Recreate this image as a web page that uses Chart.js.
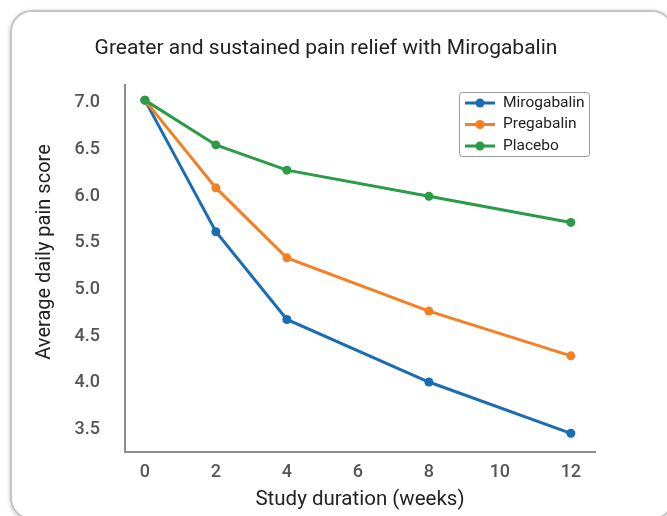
<!DOCTYPE html>
<html>
<head>
<meta charset="utf-8">
<script src="https://cdn.jsdelivr.net/npm/chart.js@4.4.1/dist/chart.umd.min.js"></script>
<style>
  html, body { margin: 0; padding: 0; background: #fff; }
  body { width: 667px; height: 516px; overflow: hidden; position: relative; }
  #card {
    position: absolute; left: 10px; top: 10px; width: 664px; height: 510px;
    border: 2px solid #c4c4c4; border-radius: 22px;
    box-shadow: 0 1px 4px rgba(0,0,0,0.25);
    box-sizing: border-box;
  }
  #wrap { position: absolute; left: 0; top: 0; width: 667px; height: 516px; }
</style>
</head>
<body>
<div id="card"></div>
<div id="wrap"><canvas id="chart" width="667" height="516"></canvas></div>
<script>
(function() {
    const weeks = [0, 2, 4, 8, 12];
    const mirogabalin = [7.03, 5.62, 4.68, 4.01, 3.46];
    const pregabalin = [7.03, 6.09, 5.34, 4.77, 4.29];
    const placebo = [7.03, 6.55, 6.28, 6.00, 5.72];
    const xTicks = [0, 2, 4, 6, 8, 10, 12];
    const yTicks = [3.5, 4.0, 4.5, 5.0, 5.5, 6.0, 6.5, 7.0];
    const yTitle = 'Average daily pain score';

    const FONT = "Roboto, sans-serif";

    function series(label, values, color, order) {
        return {
            label: label,
            data: weeks.map((w, i) => ({x: w, y: values[i]})),
            borderColor: color,
            backgroundColor: color,
            pointBackgroundColor: color,
            pointBorderWidth: 0,
            pointRadius: 4.5,
            borderWidth: 3,
            order: order,
        };
    }

    // legend drawn in a box inside the plot, top right, plus the y title
    const boxLegend = {
        id: 'boxLegend',
        afterDraw(chart) {
            const ctx = chart.ctx;
            const x0 = 459, y0 = 92, w = 130, h = 64;
            ctx.save();
            ctx.strokeStyle = '#9a9a9a';
            ctx.lineWidth = 1;
            ctx.beginPath();
            ctx.roundRect(x0 + 0.5, y0 + 0.5, w, h, 3);
            ctx.stroke();
            ctx.font = "15.5px " + FONT;
            ctx.textBaseline = 'middle';
            chart.data.datasets.forEach((ds, i) => {
                const y = y0 + 11 + i * 21.5;
                ctx.strokeStyle = ds.borderColor;
                ctx.lineWidth = 3;
                ctx.beginPath();
                ctx.moveTo(x0 + 6, y);
                ctx.lineTo(x0 + 36, y);
                ctx.stroke();
                ctx.fillStyle = ds.borderColor;
                ctx.beginPath();
                ctx.arc(x0 + 21, y, 4.5, 0, Math.PI * 2);
                ctx.fill();
                ctx.fillStyle = '#222';
                ctx.fillText(ds.label, x0 + 44, y);
            });

            // y axis title sits a bit above the middle of the axis in the original
            ctx.translate(45, 252);
            ctx.rotate(-Math.PI / 2);
            ctx.font = "20px " + FONT;
            ctx.textAlign = 'center';
            ctx.fillStyle = '#222';
            ctx.fillText(yTitle, 0, 0);
            ctx.restore();
        }
    };

    const config = {
        type: 'line',
        data: {
            datasets: [
                series('Mirogabalin', mirogabalin, '#1a6db3', 2),
                series('Pregabalin', pregabalin, '#f47f24', 1),
                series('Placebo', placebo, '#2a9b47', 0),
            ],
        },
        options: {
            responsive: false,
            animation: false,
            layout: {
                padding: {left: 57, right: 72, top: 34, bottom: 4},
            },
            scales: {
                x: {
                    type: 'linear',
                    min: -0.56,
                    max: 12.68,
                    afterBuildTicks: (axis) => {
                        axis.ticks = xTicks.map(v => ({value: v}));
                    },
                    afterFit: (axis) => {
                        axis.height = 60;
                    },
                    grid: {display: false, drawTicks: false},
                    border: {display: true, color: '#8c8c8c', width: 2},
                    ticks: {
                        padding: 10,
                        color: '#555',
                        font: {family: FONT, size: 18, weight: '500'},
                    },
                    title: {
                        display: true,
                        text: 'Study duration (weeks)',
                        color: '#222',
                        font: {family: FONT, size: 20.5},
                        padding: {top: 4, bottom: 0},
                    },
                },
                y: {
                    min: 3.26,
                    max: 7.19,
                    afterBuildTicks: (axis) => {
                        axis.ticks = yTicks.map(v => ({value: v}));
                    },
                    afterFit: (axis) => {
                        axis.width = 68;
                    },
                    grid: {display: false, drawTicks: false},
                    border: {display: true, color: '#8c8c8c', width: 2},
                    ticks: {
                        padding: 25,
                        color: '#555',
                        font: {family: FONT, size: 18, weight: '500'},
                        callback: (v) => v.toFixed(1),
                    },
                    title: {display: false},
                },
            },
            plugins: {
                legend: {display: false},
                tooltip: {enabled: false},
                title: {
                    display: true,
                    text: 'Greater and sustained pain relief with Mirogabalin',
                    color: '#222',
                    font: {family: FONT, size: 21, weight: 'normal'},
                    padding: {top: 2, bottom: 24},
                },
            },
        },
        plugins: [boxLegend],
    };

    new Chart(document.getElementById('chart'), config);
})();
</script>
</body>
</html>
